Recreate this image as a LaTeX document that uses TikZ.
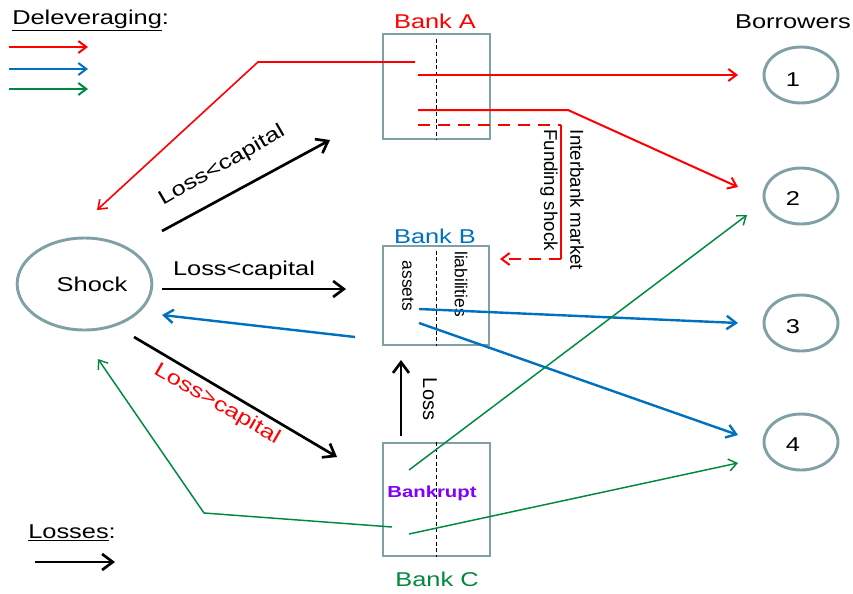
\documentclass[tikz,border=0pt]{standalone}
\usepackage{fontspec}
\setmainfont{Liberation Sans}[FakeStretch=1.27]
\newfontfamily\plainfont{Liberation Sans}
\usetikzlibrary{arrows.meta,shapes.geometric}
\definecolor{frame}{RGB}{127,161,166}
\definecolor{myred}{RGB}{255,0,0}
\definecolor{myblue}{RGB}{0,112,192}
\definecolor{mygreen}{RGB}{0,136,62}
\definecolor{mypurple}{RGB}{127,0,255}
\begin{document}
\begin{tikzpicture}[x=0.75pt,y=-0.75pt,
  every node/.style={font=\fontsize{15}{18}\selectfont, inner sep=0pt},
  bank/.style={draw=frame, line width=2.2pt, rectangle},
  borrower/.style={draw=frame, line width=2.2pt, ellipse, minimum width=55.5pt, minimum height=42pt},
  divider/.style={draw=black, line width=0.6pt, dash pattern=on 3pt off 2pt},
  tipsmall/.style={-{Straight Barb[length=6pt,width=9pt]}},
  redline/.style={draw=myred, line width=1.5pt},
  bluearr/.style={draw=myblue, line width=1.8pt, -{Straight Barb[length=7pt,width=10pt]}},
  greenline/.style={draw=mygreen, line width=1.1pt},
  lossarr/.style={draw=black, line width=2pt, -{Straight Barb[length=8pt,width=12pt]}},
  vtext/.style={font=\plainfont\fontsize{14}{16}\selectfont, rotate=-90},
]
\useasboundingbox (0,0) rectangle (853,593);

% ---------- boxes and ellipses ----------
\node[bank, minimum width=80.25pt, minimum height=78.75pt] (A) at (436.5,86.5) {};
\node[bank, minimum width=79.5pt, minimum height=74.25pt] (B) at (436,295.5) {};
\node[bank, minimum width=80.25pt, minimum height=84.75pt] (C) at (436.5,499.5) {};
\draw[divider] ([yshift=-4.5pt]A.north) -- (A.south);
\draw[divider] ([yshift=-4.5pt]B.north) -- (B.south);
\draw[divider] (C.north) -- (C.south);

\node[text=myred] (labA) at (435,21) {Bank A};
\node[text=myblue] (labB) at (435,236) {Bank B};
\node[text=mygreen] (labC) at (437,579) {Bank C};

\node[draw=frame, line width=2.2pt, ellipse, minimum width=101pt, minimum height=69pt] (shock) at (84.5,284) {};
\node (shockt) at (92,284) {Shock};

\node (borr) at (793,22) {Borrowers};
\node[borrower] (b1) at (801,75) {};
\node[borrower] (b2) at (801,196) {};
\node[borrower] (b3) at (801,323) {};
\node[borrower] (b4) at (801,442) {};
\node (n1) at (793,80) {1};
\node (n2) at (793,199) {2};
\node (n3) at (793,327) {3};
\node (n4) at (793,445) {4};

% ---------- legend ----------
\node[anchor=base west] (legD) at (12,24) {\underline{Deleveraging}:};
\coordinate (lr1) at (9,47);  \coordinate (lr2) at (88,47);
\coordinate (lb1) at (9,69);  \coordinate (lb2) at (88,69);
\coordinate (lg1) at (9,89);  \coordinate (lg2) at (88,89);
\draw[redline, tipsmall] (lr1) -- (lr2);
\draw[draw=myblue, line width=1.5pt, tipsmall] (lb1) -- (lb2);
\draw[draw=mygreen, line width=1.5pt, tipsmall] (lg1) -- (lg2);
\node[anchor=base west] (legL) at (28,538) {\underline{Losses}:};
\coordinate (ll1) at (35,562); \coordinate (ll2) at (115,562);
\draw[lossarr] (ll1) -- (ll2);

% ---------- red deleveraging of bank A ----------
\coordinate (a1) at (415,62);  \coordinate (a1k) at (258,62); \coordinate (sA) at (97,210);
\draw[redline, line width=1.2pt, tipsmall] (a1) -- (a1k) -- (sA);
\coordinate (a2) at (418,75);  \coordinate (t1) at (738,75);
\draw[redline, tipsmall] (a2) -- (t1);
\coordinate (a3) at (418,110); \coordinate (a3k) at (568,110); \coordinate (t2) at (738,187);
\draw[redline, tipsmall] (a3) -- (a3k) -- (t2);
\coordinate (a4) at (418,125); \coordinate (a4k) at (561,125);
\coordinate (a4d) at (561,259); \coordinate (bIn) at (500,259);
\draw[redline, dash pattern=on 9pt off 6pt] (a4) -- (a4k);
\draw[redline] (a4k) -- (a4d);
\draw[redline, dash pattern=on 9pt off 6pt, tipsmall] (a4d) -- (bIn);
\node[vtext] (fund) at (549,190) {Funding shock};
\node[vtext] (inter) at (577,200) {Interbank market};

% ---------- losses ----------
\coordinate (s1) at (162,231); \coordinate (k1) at (330,140);
\draw[lossarr] (s1) -- (k1);
\node[rotate=30] (lc1) at (222,166) {Loss<capital};
\coordinate (s2) at (162,289); \coordinate (k2) at (346,289);
\draw[lossarr] (s2) -- (k2);
\node (lc2) at (244,270) {Loss<capital};
\coordinate (s3) at (134,337); \coordinate (k3) at (337,457);
\draw[lossarr] (s3) -- (k3);
\node[rotate=-30, text=myred] (lc3) at (217,404) {Loss>capital};
\coordinate (c1) at (401,436); \coordinate (kb) at (401,360);
\draw[lossarr] (c1) -- (kb);
\node[vtext, font=\plainfont\fontsize{15}{18}\selectfont] (lossv) at (430,399) {Loss};

% ---------- bank B ----------
\node[vtext, font=\plainfont\fontsize{13}{15}\selectfont] (ass) at (408,286) {assets};
\node[vtext, font=\plainfont\fontsize{13}{15}\selectfont] (lia) at (461,284) {liabilities};
\coordinate (bb1) at (355,337); \coordinate (s4) at (162,315);
\draw[bluearr] (bb1) -- (s4);
\coordinate (bb2) at (419,309); \coordinate (t3) at (738,323);
\draw[bluearr] (bb2) -- (t3);
\coordinate (bb3) at (419,323); \coordinate (t4) at (738,435);
\draw[bluearr] (bb3) -- (t4);

% ---------- bank C ----------
\node[text=mypurple, font=\bfseries\fontsize{12}{14}\selectfont] (bk) at (432,493) {Bankrupt};
\coordinate (cg1) at (409,470); \coordinate (t2g) at (747,215);
\draw[greenline, tipsmall] (cg1) -- (t2g);
\coordinate (cg2) at (409,534); \coordinate (t4g) at (738,463);
\draw[greenline, tipsmall] (cg2) -- (t4g);
\coordinate (cg3) at (392,527); \coordinate (gk) at (204,513); \coordinate (s5) at (98,359);
\draw[greenline, tipsmall] (cg3) -- (gk) -- (s5);
\end{tikzpicture}
\end{document}
